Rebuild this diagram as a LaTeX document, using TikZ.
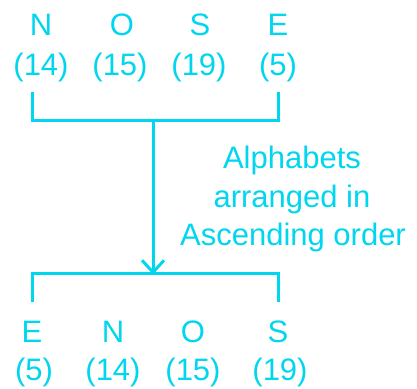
\documentclass[tikz,border=0pt]{standalone}
\usepackage{fontspec}
\setmainfont{Liberation Sans}
\usetikzlibrary{arrows.meta}
\definecolor{cy}{RGB}{0,214,238}
\begin{document}
\begin{tikzpicture}[x=1pt,y=-1pt,
  txt/.style={text=cy,inner sep=0pt,anchor=base,font=\fontsize{31}{36}\selectfont},
  brk/.style={draw=cy,line width=3pt,line cap=butt,line join=miter}]
\useasboundingbox (0,0) rectangle (417,388);
% top row
\node[txt] (tN) at (41,35) {N};
\node[txt] (tO) at (122,35) {O};
\node[txt] (tS) at (200,35) {S};
\node[txt] (tE) at (278,35) {E};
\node[txt] (t14) at (41,75) {(14)};
\node[txt] (t15) at (120,75) {(15)};
\node[txt] (t19) at (199,75) {(19)};
\node[txt] (t5) at (278,75) {(5)};
% bottom row
\node[txt] (bE) at (32,342) {E};
\node[txt] (bN) at (113,342) {N};
\node[txt] (bO) at (193,342) {O};
\node[txt] (bS) at (278,342) {S};
\node[txt] (b5) at (34,380) {(5)};
\node[txt] (b14) at (113,380) {(14)};
\node[txt] (b15) at (193,380) {(15)};
\node[txt] (b19) at (280,380) {(19)};
% label
\node[txt] (l1) at (292,168) {Alphabets};
\node[txt] (l2) at (292,207) {arranged in};
\node[txt] (l3) at (293,245) {Ascending order};
% brackets
\coordinate (tl) at (32,92);
\coordinate (tr) at (278,92);
\coordinate (tm) at (153,120);
\coordinate (bm) at (153,273);
\coordinate (bl) at (32,302);
\coordinate (br) at (278,302);
\draw[brk] (tl) |- (tm) -| (tr);
\draw[brk] (bl) |- (bm) -| (br);
\draw[draw=cy,line width=3pt,-{Straight Barb[length=12pt,width=22pt,line width=3pt]}] (tm) -- ([yshift=-1.5pt]bm);
\end{tikzpicture}
\end{document}
